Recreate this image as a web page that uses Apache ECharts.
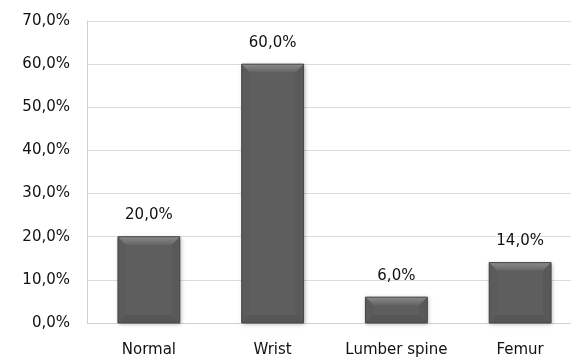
<!DOCTYPE html>
<html>
<head>
<meta charset="utf-8">
<script src="https://cdn.jsdelivr.net/npm/echarts@6/dist/echarts.min.js"></script>
<style>
  html, body { margin: 0; padding: 0; background: #fff; overflow: hidden; }
  #chart { width: 582px; height: 358px; }
</style>
</head>
<body>
<div id="chart"></div>
<script>
const categories = ['Normal', 'Wrist', 'Lumber spine', 'Femur'];
const shares = [0.20, 0.60, 0.06, 0.14];
const yMin = 0, yMax = 0.7, yStep = 0.1;

const FONT = '"DejaVu Sans", sans-serif';
const pct = v => (v * 100).toFixed(1).replace('.', ',') + '%';

// Bevelled column: flat face with lighter top edge and slightly darker sides/bottom
function renderBevelBar(params, api) {
  const i = api.value(0);
  const v = api.value(1);
  const top = api.coord([i, v]);
  const base = api.coord([i, 0]);
  const w = api.size([1, 0])[0] * 0.5;
  const x0 = top[0] - w / 2, x1 = top[0] + w / 2;
  const y0 = top[1], y1 = base[1];
  const h = y1 - y0;
  const b = Math.min(8, h / 2);
  return {
    type: 'group',
    children: [
      {
        type: 'rect',
        shape: { x: x0, y: y0, width: w, height: h },
        style: {
          fill: '#5e5e5e',
          shadowBlur: 4, shadowColor: 'rgba(0,0,0,0.3)', shadowOffsetX: 1, shadowOffsetY: 1
        }
      },
      {
        type: 'polygon',
        shape: { points: [[x0, y0], [x0 + b, y0 + b], [x0 + b, y1 - b], [x0, y1]] },
        style: { fill: '#5b5b5b' }
      },
      {
        type: 'polygon',
        shape: { points: [[x1, y0], [x1 - b, y0 + b], [x1 - b, y1 - b], [x1, y1]] },
        style: { fill: '#595959' }
      },
      {
        type: 'polygon',
        shape: { points: [[x0, y1], [x0 + b, y1 - b], [x1 - b, y1 - b], [x1, y1]] },
        style: { fill: '#565656' }
      },
      {
        type: 'polygon',
        shape: { points: [[x0, y0], [x1, y0], [x1 - b, y0 + b], [x0 + b, y0 + b]] },
        style: {
          fill: new echarts.graphic.LinearGradient(0, 0, 0, 1, [
            { offset: 0, color: '#8a8a8a' }, { offset: 1, color: '#666666' }
          ])
        }
      },
      {
        type: 'rect',
        shape: { x: x0, y: y0, width: w, height: h },
        style: { fill: 'none', stroke: '#474747', lineWidth: 1 }
      },
      {
        type: 'text',
        style: {
          text: pct(v), x: top[0], y: y0 - 14,
          align: 'center', verticalAlign: 'bottom',
          font: '15px ' + FONT, fill: '#111'
        }
      }
    ]
  };
}

const chart = echarts.init(document.getElementById('chart'), null, { renderer: 'canvas' });
chart.setOption({
  animation: false,
  backgroundColor: '#fff',
  grid: { left: 87, right: 0, top: 21, height: 303.5, containLabel: false },
  xAxis: {
    type: 'category',
    data: categories,
    axisLine: { show: true, lineStyle: { color: '#d0d0d0', width: 1 } },
    axisTick: { show: false },
    axisLabel: { color: '#111', fontFamily: FONT, fontSize: 15, margin: 20, interval: 0 }
  },
  yAxis: {
    type: 'value',
    min: yMin, max: yMax, interval: yStep,
    axisLine: { show: true, lineStyle: { color: '#cfcfcf', width: 1 } },
    axisTick: { show: false },
    splitLine: { show: true, lineStyle: { color: '#dcdcdc', width: 1 } },
    axisLabel: { color: '#111', fontFamily: FONT, fontSize: 15, margin: 17, formatter: pct }
  },
  series: [{
    type: 'custom',
    renderItem: renderBevelBar,
    encode: { x: 0, y: 1 },
    data: shares.map((v, i) => [i, v])
  }]
});
</script>
</body>
</html>
